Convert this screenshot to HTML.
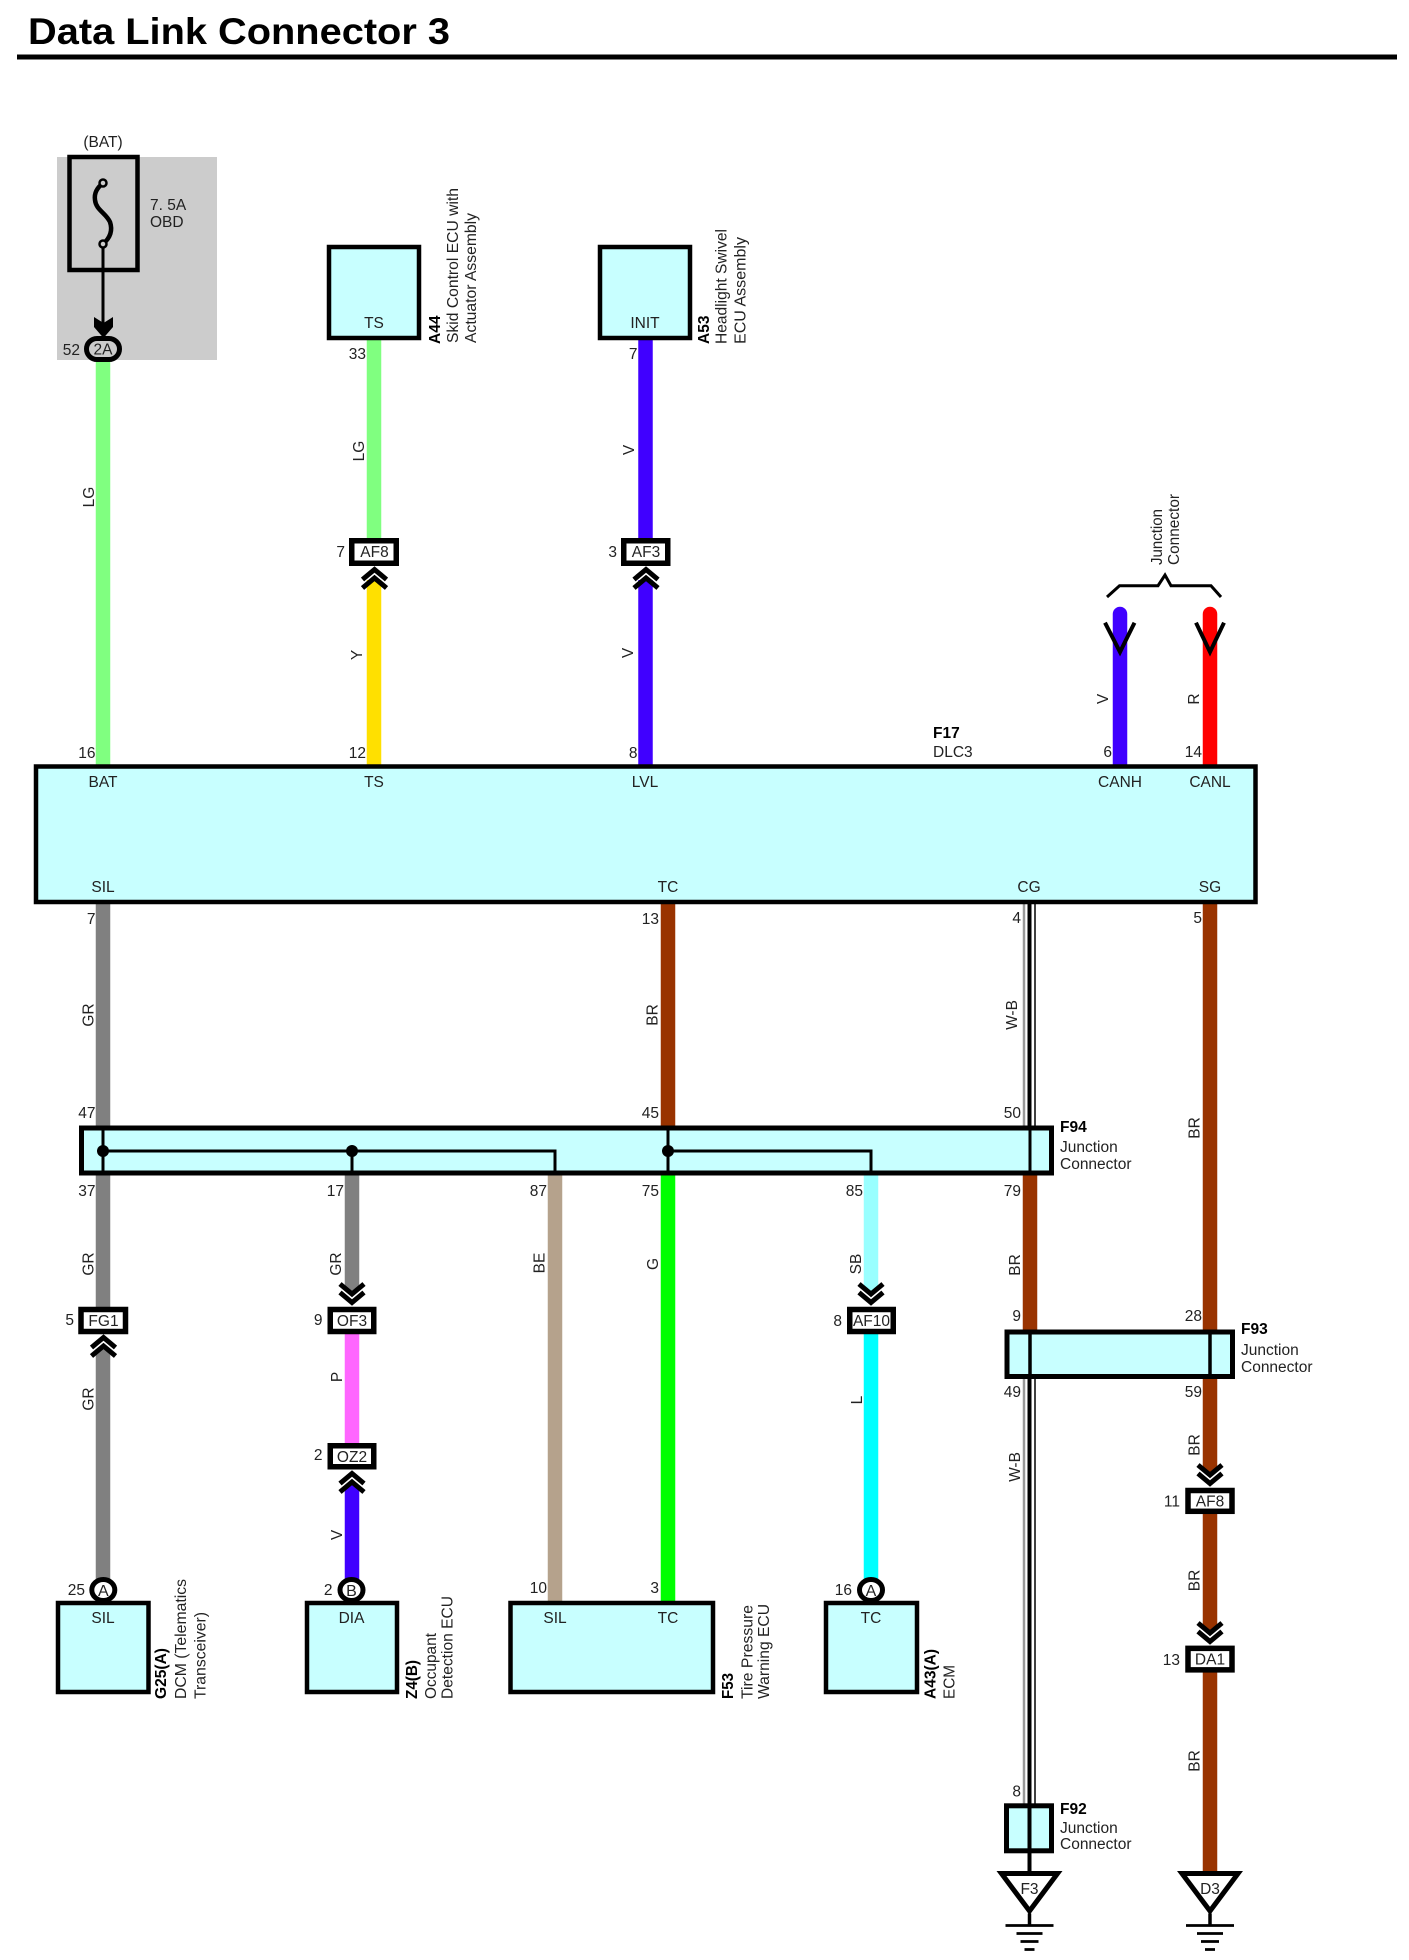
<!DOCTYPE html>
<html><head><meta charset="utf-8"><title>Data Link Connector 3</title>
<style>
html,body{margin:0;padding:0;background:#fff}
svg{display:block}
text{font-family:"Liberation Sans",Arial,sans-serif;font-size:15.5px;fill:#222}
.m{text-anchor:middle}
.e{text-anchor:end}
.b{font-weight:bold;fill:#000}
.w{fill:none;stroke-width:14.5}
.box{fill:#c8ffff;stroke:#000;stroke-width:4.5}
.j{fill:#c8ffff;stroke:#000;stroke-width:5}
.c{fill:#fff;stroke:#000;stroke-width:5.5}
.l{fill:none;stroke:#000;stroke-width:3}
.ch{fill:none;stroke:#000;stroke-width:5}
</style></head><body>
<svg xmlns="http://www.w3.org/2000/svg" width="1409" height="1960" viewBox="0 0 1409 1960">
<defs>
<path id="cu" class="ch" d="M-12 23L0 13L12 23M-12 14.500L0 4.500L12 14.500"/>
<path id="cd" class="ch" d="M-12 -23L0 -13L12 -23M-12 -14.500L0 -4.500L12 -14.500"/>
<g id="gnd"><path d="M0 -12V0" stroke="#000" stroke-width="3.500"/><path d="M-24 0H24M-13 8H13M-9 16H9M-5 24H5" stroke="#000" stroke-width="2.700"/></g>
</defs>
<rect width="1409" height="1960" fill="#fff"/>
<text x="28" y="44" class="b" style="font-size:37px" textLength="422" lengthAdjust="spacingAndGlyphs">Data Link Connector 3</text>
<rect x="17" y="54.500" width="1380" height="5" fill="#000"/>

<!-- fuse -->
<rect x="57" y="157" width="160" height="203" fill="#cccccc"/>
<rect x="69.500" y="157" width="68" height="113" fill="none" stroke="#000" stroke-width="4.500"/>
<path d="M103 183C97 188 94 193 95 200C96 210 106 213 110 222C113 231 110 238 103 244" fill="none" stroke="#000" stroke-width="4.500"/>
<circle cx="103" cy="183" r="3.500" fill="#ccc" stroke="#000" stroke-width="2.500"/>
<path d="M103 248V325" stroke="#000" stroke-width="3"/>
<circle cx="103" cy="244" r="3.500" fill="#ccc" stroke="#000" stroke-width="2.500"/>
<path d="M94 317L103.500 323L113 317V327L103.500 338L94 327Z" fill="#000"/>
<text x="103" y="147" class="m">(BAT)</text>
<text x="150" y="210">7. 5A</text>
<text x="150" y="227">OBD</text>

<!-- wires upper -->
<path class="w" stroke="#80ff80" d="M103 360V766M374 340V540"/>
<path class="w" stroke="#ffe000" d="M374 580V766"/>
<path class="w" stroke="#4000ff" d="M645.500 340V540M645.500 580V766"/>
<path class="w" stroke="#4000ff" stroke-linecap="round" d="M1120 614V766"/>
<path class="w" stroke="#ff0000" stroke-linecap="round" d="M1210 614V766"/>

<!-- wires lower -->
<path class="w" stroke="#808080" d="M103 902V1128M103 1175V1310M103 1349V1590M352 1175V1291"/>
<path class="w" stroke="#993300" d="M668 902V1128M1030 1175V1332M1210 902V1332M1210 1376V1472M1210 1512V1630M1210 1670V1873"/>
<path class="w" stroke="#b5a28c" d="M555 1175V1602"/>
<path class="w" stroke="#00ff00" d="M668 1175V1602"/>
<path class="w" stroke="#99ffff" d="M871 1175V1291"/>
<path class="w" stroke="#00ffff" d="M871 1332V1580"/>
<path class="w" stroke="#ff66ff" d="M352 1332V1445"/>
<path class="w" stroke="#4000ff" d="M352 1485V1580"/>

<!-- W-B -->
<path d="M1024 902V1128M1024 1376V1804" stroke="#999" stroke-width="2.500"/>
<path d="M1029.500 902V1128M1029.500 1376V1873" stroke="#000" stroke-width="4"/>
<path d="M1035 902V1128M1035 1376V1804" stroke="#000" stroke-width="1.500"/>

<!-- modules -->
<rect class="box" x="329" y="247" width="90" height="91"/>
<rect class="box" x="600" y="247" width="90" height="91"/>
<text x="374" y="328" class="m">TS</text>
<text x="645" y="328" class="m">INIT</text>

<rect class="box" x="36" y="766.500" width="1219.500" height="135.500"/>
<text x="103" y="787" class="m">BAT</text>
<text x="374" y="787" class="m">TS</text>
<text x="645" y="787" class="m">LVL</text>
<text x="1120" y="787" class="m">CANH</text>
<text x="1210" y="787" class="m">CANL</text>
<text x="103" y="892" class="m">SIL</text>
<text x="668" y="892" class="m">TC</text>
<text x="1029" y="892" class="m">CG</text>
<text x="1210" y="892" class="m">SG</text>
<text x="933" y="738" class="b">F17</text>
<text x="933" y="757">DLC3</text>

<!-- F94 -->
<rect class="j" x="81.500" y="1128" width="970" height="45"/>
<path class="l" d="M103 1128V1173M103 1151H555V1173M352 1151V1173M668 1128V1173M668 1151H871V1173M1030 1128V1173"/>
<circle cx="103" cy="1151" r="6"/><circle cx="352" cy="1151" r="6"/><circle cx="668" cy="1151" r="6"/>
<text x="1060" y="1132" class="b">F94</text>
<text x="1060" y="1152">Junction</text>
<text x="1060" y="1169">Connector</text>

<!-- F93 -->
<rect class="j" x="1007" y="1332" width="225.500" height="44.500"/>
<path class="l" d="M1030 1332V1376M1210 1332V1376" style="stroke-width:3.500"/>
<text x="1241" y="1334" class="b">F93</text>
<text x="1241" y="1355">Junction</text>
<text x="1241" y="1372">Connector</text>

<!-- F92 -->
<rect class="j" x="1006.500" y="1805.800" width="45" height="45"/>
<path class="l" d="M1029.500 1806V1851" style="stroke-width:4"/>
<text x="1060" y="1814" class="b">F92</text>
<text x="1060" y="1833">Junction</text>
<text x="1060" y="1849">Connector</text>

<!-- connectors -->
<rect class="c" x="351.750" y="540.750" width="44.500" height="22.500"/><text x="374.500" y="557" class="m">AF8</text>
<rect class="c" x="623.750" y="540.750" width="44" height="22.500"/><text x="646" y="557" class="m">AF3</text>
<rect class="c" x="81" y="1309.500" width="44.500" height="22"/><text x="103.500" y="1326" class="m">FG1</text>
<rect class="c" x="330.250" y="1309.500" width="43.500" height="22"/><text x="352" y="1326" class="m">OF3</text>
<rect class="c" x="330.250" y="1445.750" width="43.500" height="21"/><text x="352" y="1462" class="m">OZ2</text>
<rect class="c" x="849.750" y="1309.500" width="43.500" height="22"/><text x="871.500" y="1326" class="m">AF10</text>
<rect class="c" x="1188" y="1490.500" width="44" height="20.800"/><text x="1210" y="1506.500" class="m">AF8</text>
<rect class="c" x="1188" y="1648.350" width="44" height="21.500"/><text x="1210" y="1664.500" class="m">DA1</text>

<!-- chevrons -->
<use href="#cu" x="374.500" y="565"/>
<use href="#cu" x="646" y="565"/>
<use href="#cu" x="103.500" y="1333"/>
<use href="#cu" x="352" y="1469"/>
<use href="#cd" x="352" y="1307"/>
<use href="#cd" x="871" y="1307"/>
<use href="#cd" x="1210" y="1488"/>
<use href="#cd" x="1210" y="1646"/>
<path class="ch" style="stroke-width:4" d="M1105 622.700L1120 652L1134.500 622.700M1196 622.700L1210 652L1224 622.700"/>
<path fill="none" stroke="#000" stroke-width="3" d="M1107 597L1119.500 585.700H1158L1165 575L1171 585.700H1211L1221 597"/>

<!-- plug circles -->
<rect x="86.500" y="338.500" width="33" height="21" rx="10.500" fill="#ccc" stroke="#000" stroke-width="5"/>
<text x="103" y="354.500" class="m">2A</text>
<ellipse class="c" cx="103.300" cy="1590" rx="11.500" ry="10.500" style="stroke-width:5"/><text x="103.300" y="1596" class="m" style="font-size:16px">A</text>
<ellipse class="c" cx="351.500" cy="1590" rx="11.500" ry="10.500" style="stroke-width:5"/><text x="351.500" y="1596" class="m" style="font-size:16px">B</text>
<ellipse class="c" cx="871" cy="1590" rx="11.500" ry="10.500" style="stroke-width:5"/><text x="871" y="1596" class="m" style="font-size:16px">A</text>

<!-- bottom modules -->
<rect class="box" x="58" y="1603" width="90.500" height="89"/>
<rect class="box" x="307" y="1603" width="90" height="89"/>
<rect class="box" x="510.500" y="1603" width="202.500" height="89"/>
<rect class="box" x="826" y="1603" width="91" height="89"/>
<text x="103" y="1623" class="m">SIL</text>
<text x="351.500" y="1623" class="m">DIA</text>
<text x="555" y="1623" class="m">SIL</text>
<text x="668" y="1623" class="m">TC</text>
<text x="871" y="1623" class="m">TC</text>

<!-- ground -->
<path d="M1001.500 1873.500H1057.500L1029.500 1911Z M1182 1873.500H1238L1210 1911Z" fill="#fff" stroke="#000" stroke-width="5"/>
<text x="1029.500" y="1894" class="m">F3</text>
<text x="1210" y="1894" class="m">D3</text>
<use href="#gnd" x="1029.500" y="1925.500"/>
<use href="#gnd" x="1210" y="1925.500"/>

<!-- pin numbers -->
<text x="80" y="355" class="e">52</text>
<text x="366" y="359" class="e">33</text>
<text x="637.500" y="359" class="e">7</text>
<text x="345" y="557" class="e">7</text>
<text x="617" y="557" class="e">3</text>
<text x="95.500" y="758" class="e">16</text>
<text x="366" y="758" class="e">12</text>
<text x="637.500" y="758" class="e">8</text>
<text x="1112" y="757" class="e">6</text>
<text x="1202" y="757" class="e">14</text>
<text x="95.500" y="924" class="e">7</text>
<text x="659" y="924" class="e">13</text>
<text x="1021" y="923" class="e">4</text>
<text x="1202" y="923" class="e">5</text>
<text x="95.500" y="1118" class="e">47</text>
<text x="659" y="1118" class="e">45</text>
<text x="1021" y="1118" class="e">50</text>
<text x="95.500" y="1196" class="e">37</text>
<text x="344" y="1196" class="e">17</text>
<text x="547" y="1196" class="e">87</text>
<text x="659" y="1196" class="e">75</text>
<text x="863" y="1196" class="e">85</text>
<text x="1021" y="1196" class="e">79</text>
<text x="74" y="1325" class="e">5</text>
<text x="322.500" y="1325" class="e">9</text>
<text x="842" y="1326" class="e">8</text>
<text x="1021" y="1321" class="e">9</text>
<text x="1202" y="1321" class="e">28</text>
<text x="1021" y="1397" class="e">49</text>
<text x="1202" y="1397" class="e">59</text>
<text x="322.500" y="1460" class="e">2</text>
<text x="1180" y="1506.500" class="e">11</text>
<text x="1180" y="1665" class="e">13</text>
<text x="85" y="1595" class="e">25</text>
<text x="332.500" y="1595" class="e">2</text>
<text x="852" y="1595" class="e">16</text>
<text x="547" y="1593" class="e">10</text>
<text x="659" y="1593" class="e">3</text>
<text x="1021" y="1796.500" class="e">8</text>

<!-- wire colour labels -->
<text transform="translate(94,497) rotate(-90)" class="m">LG</text>
<text transform="translate(364,451) rotate(-90)" class="m">LG</text>
<text transform="translate(634,450) rotate(-90)" class="m">V</text>
<text transform="translate(362,655) rotate(-90)" class="m">Y</text>
<text transform="translate(633,653) rotate(-90)" class="m">V</text>
<text transform="translate(1108,699) rotate(-90)" class="m">V</text>
<text transform="translate(1199,699) rotate(-90)" class="m">R</text>
<text transform="translate(93.500,1015) rotate(-90)" class="m">GR</text>
<text transform="translate(657.500,1015) rotate(-90)" class="m">BR</text>
<text transform="translate(1017,1015) rotate(-90)" class="m">W-B</text>
<text transform="translate(1199.500,1128) rotate(-90)" class="m">BR</text>
<text transform="translate(93.500,1264) rotate(-90)" class="m">GR</text>
<text transform="translate(341,1264) rotate(-90)" class="m">GR</text>
<text transform="translate(544.500,1263) rotate(-90)" class="m">BE</text>
<text transform="translate(658,1264) rotate(-90)" class="m">G</text>
<text transform="translate(861,1264) rotate(-90)" class="m">SB</text>
<text transform="translate(1020,1265) rotate(-90)" class="m">BR</text>
<text transform="translate(93.500,1399) rotate(-90)" class="m">GR</text>
<text transform="translate(342,1377) rotate(-90)" class="m">P</text>
<text transform="translate(342,1535) rotate(-90)" class="m">V</text>
<text transform="translate(862,1400) rotate(-90)" class="m">L</text>
<text transform="translate(1020,1467) rotate(-90)" class="m">W-B</text>
<text transform="translate(1199.500,1445) rotate(-90)" class="m">BR</text>
<text transform="translate(1199.500,1580.500) rotate(-90)" class="m">BR</text>
<text transform="translate(1199.500,1761) rotate(-90)" class="m">BR</text>

<!-- rotated module labels -->
<text transform="translate(440,344) rotate(-90)" class="b">A44</text>
<text transform="translate(458,343) rotate(-90)" textLength="155" lengthAdjust="spacingAndGlyphs">Skid Control ECU with</text>
<text transform="translate(476,343) rotate(-90)" textLength="130" lengthAdjust="spacingAndGlyphs">Actuator Assembly</text>
<text transform="translate(709,344) rotate(-90)" class="b">A53</text>
<text transform="translate(726.500,344) rotate(-90)" textLength="115" lengthAdjust="spacingAndGlyphs">Headlight Swivel</text>
<text transform="translate(745.500,344) rotate(-90)" textLength="107" lengthAdjust="spacingAndGlyphs">ECU Assembly</text>
<text transform="translate(1162,565) rotate(-90)" textLength="56" lengthAdjust="spacingAndGlyphs">Junction</text>
<text transform="translate(1179,565) rotate(-90)" textLength="71" lengthAdjust="spacingAndGlyphs">Connector</text>
<text transform="translate(166,1699) rotate(-90)" class="b" textLength="51" lengthAdjust="spacingAndGlyphs">G25(A)</text>
<text transform="translate(186,1699) rotate(-90)" textLength="120" lengthAdjust="spacingAndGlyphs">DCM (Telematics</text>
<text transform="translate(205.500,1699) rotate(-90)" textLength="87" lengthAdjust="spacingAndGlyphs">Transceiver)</text>
<text transform="translate(417,1699) rotate(-90)" class="b" textLength="39" lengthAdjust="spacingAndGlyphs">Z4(B)</text>
<text transform="translate(436,1699) rotate(-90)" textLength="66" lengthAdjust="spacingAndGlyphs">Occupant</text>
<text transform="translate(452.500,1699) rotate(-90)" textLength="103" lengthAdjust="spacingAndGlyphs">Detection ECU</text>
<text transform="translate(733,1699) rotate(-90)" class="b" textLength="26" lengthAdjust="spacingAndGlyphs">F53</text>
<text transform="translate(752.500,1699) rotate(-90)" textLength="94" lengthAdjust="spacingAndGlyphs">Tire Pressure</text>
<text transform="translate(769,1699) rotate(-90)" textLength="95" lengthAdjust="spacingAndGlyphs">Warning ECU</text>
<text transform="translate(935.500,1699) rotate(-90)" class="b" textLength="50" lengthAdjust="spacingAndGlyphs">A43(A)</text>
<text transform="translate(954.500,1699) rotate(-90)" textLength="34" lengthAdjust="spacingAndGlyphs">ECM</text>
</svg>
</body></html>
